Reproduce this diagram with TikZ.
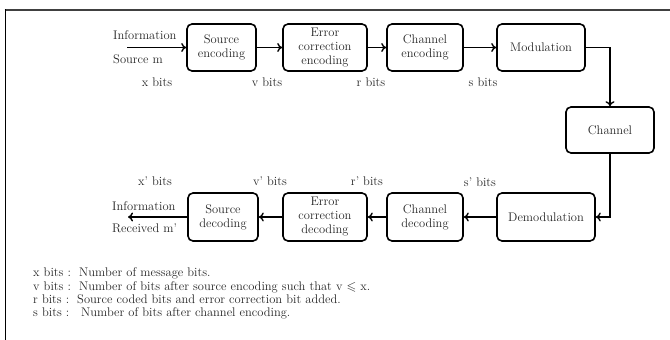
\documentclass[tikz,border=0pt]{standalone}
\usepackage{amssymb}
\usetikzlibrary{arrows.meta}
\begin{document}
\begin{tikzpicture}[x=1pt,y=-1pt,
  every node/.style={font=\fontsize{12.5}{14}\selectfont, text=black!85},
  blk/.style={draw=black, line width=1.6pt, rounded corners=5pt, align=center, inner sep=0pt},
  conn/.style={line width=1.8pt, -{To[length=5pt,width=9pt,line width=1.4pt]}},
  lbl/.style={inner sep=0pt},
  leg/.style={inner sep=0pt, anchor=base west}]
\useasboundingbox (0,0) rectangle (670,340);
% frame
\draw[line width=2pt, black!75] (4.5,9.5) -- (670,9.5);
\draw[line width=1.5pt, black] (5.5,9) -- (5.5,340);
% top row
\node[blk, minimum width=69pt, minimum height=47pt] (srcenc) at (221.5,47.5) {Source\\encoding};
\node[blk, minimum width=84pt, minimum height=47pt] (errenc) at (325,47.5) {Error\\correction\\encoding};
\node[blk, minimum width=76pt, minimum height=47pt] (chenc) at (425,47.5) {Channel\\encoding};
\node[blk, minimum width=88pt, minimum height=47pt] (mod) at (541,47.5) {Modulation};
\node[blk, minimum width=88pt, minimum height=46pt] (chan) at (610,130) {Channel};
% bottom row
\node[blk, minimum width=98pt, minimum height=48pt] (demod) at (546,217) {Demodulation};
\node[blk, minimum width=76pt, minimum height=48pt] (chdec) at (425,217) {Channel\\decoding};
\node[blk, minimum width=84pt, minimum height=48pt] (errdec) at (325,217) {Error\\correction\\decoding};
\node[blk, minimum width=70pt, minimum height=48pt] (srcdec) at (223,217) {Source\\decoding};
% free ends
\coordinate (in) at (127,47.5);
\coordinate (out) at (128,217);
% labels
\node[lbl, anchor=west] (info1) at (113,35) {Information};
\node[lbl, anchor=west] (srcm) at (113,59) {Source m};
\node[lbl, anchor=west] (info2) at (112,206) {Information};
\node[lbl, anchor=west] (recm) at (112,228) {Received m'};
\node[lbl] (xb) at (157,82) {x bits};
\node[lbl] (vb) at (267,82) {v bits};
\node[lbl] (rb) at (371,82) {r bits};
\node[lbl] (sb) at (483,82) {s bits};
\node[lbl] (xpb) at (155,181) {x' bits};
\node[lbl] (vpb) at (270,181) {v' bits};
\node[lbl] (rpb) at (367,181) {r' bits};
\node[lbl] (spb) at (480,182) {s' bits};
% connectors
\draw[conn] (in) -- (srcenc.west);
\draw[conn] (srcenc.east) -- (errenc.west);
\draw[conn] (errenc.east) -- (chenc.west);
\draw[conn] (chenc.east) -- (mod.west);
\draw[conn] (mod.east) -| (chan.north);
\draw[conn] (chan.south) |- (demod.east);
\draw[conn] (demod.west) -- (chdec.east);
\draw[conn] (chdec.west) -- (errdec.east);
\draw[conn] (errdec.west) -- (srcdec.east);
\draw[conn] (srcdec.west) -- (out);
% legend
\node[leg] (l1a) at (33,276) {x bits :};
\node[leg] (l1b) at (79,276) {Number of message bits.};
\node[leg] (l2a) at (33,290) {v bits :};
\node[leg] (l2b) at (79,290) {Number of bits after source encoding such that v $\leqslant$ x.};
\node[leg] (l3a) at (33,303) {r bits :};
\node[leg] (l3b) at (77,303) {Source coded bits and error correction bit added.};
\node[leg] (l4a) at (33,316) {s bits :};
\node[leg] (l4b) at (81,316) {Number of bits after channel encoding.};
\end{tikzpicture}
\end{document}
